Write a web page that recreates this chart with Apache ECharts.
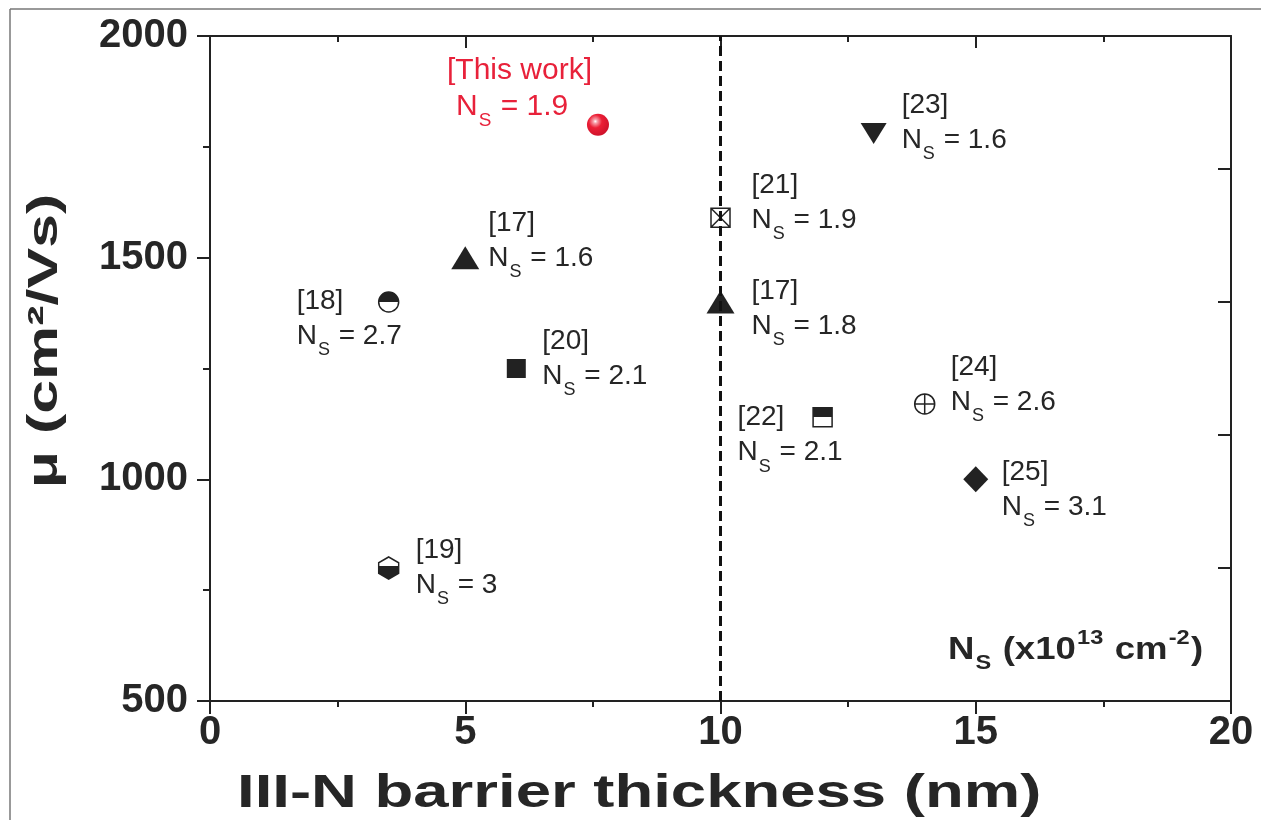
<!DOCTYPE html>
<html>
<head>
<meta charset="utf-8">
<script src="https://cdn.jsdelivr.net/npm/echarts@6/dist/echarts.min.js"></script>
<style>
html,body{margin:0;padding:0;background:#fff;}
#chart{width:1261px;height:820px;}
</style>
</head>
<body>
<div id="chart"></div>
<script>
// ---- data ----
const refs = ['[This work]', '[23]', '[21]', '[17]', '[17]', '[18]', '[20]', '[22]', '[24]', '[25]', '[19]'];
const thickness = [7.6, 13, 10, 5, 10, 3.5, 6, 12, 14, 15, 3.5];
const mobility = [1800, 1780, 1590, 1500, 1400, 1400, 1250, 1140, 1170, 1000, 800];
const nsValues = ['1.9', '1.6', '1.9', '1.6', '1.8', '2.7', '2.1', '2.1', '2.6', '3.1', '3'];
const xTicks = [0, 5, 10, 15, 20];
const yTicks = [500, 1000, 1500, 2000];
const refLineX = 10;

// ---- styles ----
const FONT = '"Liberation Sans", Arial, sans-serif';
const DARK = '#222222';
const TXT = '#262626';
const RED = '#e8213a';

function vgrad(stops) {
  return { type: 'linear', x: 0, y: 0, x2: 0, y2: 1, colorStops: stops };
}
const markerStyles = [
  { symbol: 'circle', size: 22, itemStyle: { color: { type: 'radial', x: 0.38, y: 0.35, r: 0.75,
      colorStops: [{ offset: 0, color: '#ffffff' }, { offset: 0.12, color: '#f7a0aa' }, { offset: 0.4, color: '#ec1f36' }, { offset: 1, color: '#c80f28' }] } } },
  { symbol: 'triangle', size: [26, 21], rotate: 180, itemStyle: { color: DARK } },
  { symbol: 'path://M0,0L20,0L20,20L0,20Z M0,0L20,20 M20,0L0,20', size: 19, itemStyle: { color: '#fff', borderColor: DARK, borderWidth: 1.5 } },
  { symbol: 'triangle', size: [28, 23], itemStyle: { color: DARK } },
  { symbol: 'triangle', size: [28, 23], itemStyle: { color: DARK } },
  { symbol: 'circle', size: 20, itemStyle: { color: vgrad([{ offset: 0, color: DARK }, { offset: 0.5, color: DARK }, { offset: 0.5, color: '#fff' }, { offset: 1, color: '#fff' }]), borderColor: DARK, borderWidth: 1.5 } },
  { symbol: 'rect', size: 19, itemStyle: { color: DARK } },
  { symbol: 'rect', size: 19, itemStyle: { color: vgrad([{ offset: 0, color: DARK }, { offset: 0.5, color: DARK }, { offset: 0.5, color: '#fff' }, { offset: 1, color: '#fff' }]), borderColor: DARK, borderWidth: 1.5 } },
  { symbol: 'path://M10,0A10,10 0 1,1 10,20A10,10 0 1,1 10,0Z M0,10L20,10 M10,0L10,20', size: 20, itemStyle: { color: '#fff', borderColor: DARK, borderWidth: 1.5 } },
  { symbol: 'diamond', size: [25, 26], itemStyle: { color: DARK } },
  { symbol: 'path://M10,0L20,6L20,17L10,23L0,17L0,6Z', size: [20, 22], itemStyle: { color: vgrad([{ offset: 0, color: '#fff' }, { offset: 0.42, color: '#fff' }, { offset: 0.42, color: DARK }, { offset: 1, color: DARK }]), borderColor: DARK, borderWidth: 1.5 } }
];
// label placement relative to marker centre [dx, dy]
const labelPlace = [
  [-151, -36], [28, -11], [31, -15], [23, -17], [31, 7], [-92, 17],
  [26, -10], [-85, 18], [26, -19], [26, 10], [27, 0]
];

const richLabel = {
  a: { fontSize: 28, fontFamily: FONT, color: TXT, lineHeight: 35 },
  s: { fontSize: 18, fontFamily: FONT, color: TXT, lineHeight: 35, padding: [28, 1, 0, 1] },
  ra: { fontSize: 30, fontFamily: FONT, color: RED, lineHeight: 36 },
  rn: { fontSize: 30, fontFamily: FONT, color: RED, lineHeight: 36, padding: [0, 0, 0, 9] },
  rs: { fontSize: 19, fontFamily: FONT, color: RED, lineHeight: 36, padding: [29, 1, 0, 1] }
};

const points = thickness.map((x, i) => {
  const st = markerStyles[i];
  const red = i === 0;
  const a = red ? 'ra' : 'a', s = red ? 'rs' : 's', n = red ? 'rn' : 'a';
  return {
    value: [x, mobility[i]],
    symbol: st.symbol,
    symbolSize: st.size,
    symbolRotate: st.rotate || 0,
    itemStyle: Object.assign({ opacity: 1 }, st.itemStyle),
    label: {
      show: true,
      position: 'inside',
      align: 'left',
      verticalAlign: 'middle',
      offset: labelPlace[i],
      formatter: '{' + a + '|' + refs[i] + '}\n{' + n + '|N}{' + s + '|S}{' + a + '| = ' + nsValues[i] + '}',
      rich: richLabel
    }
  };
});

const axisLineStyle = { color: DARK, width: 2 };
const chart = echarts.init(document.getElementById('chart'), null, { renderer: 'canvas' });
chart.setOption({
  backgroundColor: '#fff',
  animation: false,
  grid: { left: 210, right: 30, top: 36, bottom: 119, containLabel: false },
  xAxis: [
    {
      type: 'value', min: xTicks[0], max: xTicks[xTicks.length - 1], interval: 5, position: 'bottom',
      axisLine: { show: true, onZero: false, lineStyle: axisLineStyle },
      axisTick: { show: true, inside: false, length: 13, lineStyle: axisLineStyle },
      minorTick: { show: true, splitNumber: 2, length: 6, lineStyle: axisLineStyle },
      splitLine: { show: false },
      axisLabel: { fontSize: 40, fontWeight: 'bold', fontFamily: FONT, color: TXT, margin: 12, formatter: v => String(v) }
    },
    {
      type: 'value', min: xTicks[0], max: xTicks[xTicks.length - 1], interval: 5, position: 'top',
      axisLine: { show: true, onZero: false, lineStyle: axisLineStyle },
      axisTick: { show: true, inside: true, length: 12, lineStyle: axisLineStyle },
      minorTick: { show: true, splitNumber: 2, length: 6, lineStyle: axisLineStyle },
      splitLine: { show: false },
      axisLabel: { show: false }
    }
  ],
  yAxis: [
    {
      type: 'value', min: yTicks[0], max: yTicks[yTicks.length - 1], interval: 500, position: 'left',
      axisLine: { show: true, onZero: false, lineStyle: axisLineStyle },
      axisTick: { show: true, inside: false, length: 13, lineStyle: axisLineStyle },
      minorTick: { show: true, splitNumber: 2, length: 7, lineStyle: axisLineStyle },
      splitLine: { show: false },
      axisLabel: { fontSize: 40, fontWeight: 'bold', fontFamily: FONT, color: TXT, margin: 22, formatter: v => String(v) }
    },
    {
      type: 'value', min: 500, max: 2000, interval: 300, position: 'right',
      axisLine: { show: true, onZero: false, lineStyle: axisLineStyle },
      axisTick: { show: true, inside: true, length: 13, lineStyle: axisLineStyle },
      minorTick: { show: false },
      splitLine: { show: false },
      axisLabel: { show: false }
    }
  ],
  series: [
    {
      type: 'scatter', xAxisIndex: 0, yAxisIndex: 0, z: 3,
      data: points,
      emphasis: { disabled: true }
    },
    {
      type: 'line', xAxisIndex: 0, yAxisIndex: 0, z: 4,
      data: [[refLineX, yTicks[0]], [refLineX, yTicks[yTicks.length - 1]]],
      symbol: 'none',
      lineStyle: { color: '#111', width: 3, type: [10, 5] },
      silent: true
    }
  ],
  graphic: [
    { type: 'line', shape: { x1: 10, y1: 9, x2: 1261, y2: 9 }, style: { stroke: '#777', lineWidth: 1.5 }, silent: true },
    { type: 'line', shape: { x1: 10, y1: 9, x2: 10, y2: 820 }, style: { stroke: '#777', lineWidth: 1.5 }, silent: true },
    {
      type: 'text', x: 237, y: 794, scaleX: 1.38,
      style: { text: 'III-N barrier thickness (nm)', font: 'bold 46px ' + FONT, fill: TXT, textAlign: 'left', textVerticalAlign: 'middle' }
    },
    {
      type: 'text', x: 45, y: 341, rotation: Math.PI / 2, scaleX: 1.45,
      style: { text: 'μ (cm²/Vs)', font: 'bold 42px ' + FONT, fill: TXT, textAlign: 'center', textVerticalAlign: 'middle' }
    },
    {
      type: 'text', x: 948, y: 650, scaleX: 1.18,
      style: {
        text: '{b|N}{bs|S}{b| (x10}{bp|13}{b| cm}{bp|-2}{b|)}',
        textAlign: 'left', textVerticalAlign: 'middle',
        rich: {
          b: { font: 'bold 31px ' + FONT, fill: TXT, lineHeight: 36 },
          bs: { font: 'bold 20px ' + FONT, fill: TXT, lineHeight: 36, padding: [26, 1, 0, 1] },
          bp: { font: 'bold 20px ' + FONT, fill: TXT, lineHeight: 36, padding: [0, 1, 24, 1] }
        }
      }
    }
  ]
});
</script>
</body>
</html>
